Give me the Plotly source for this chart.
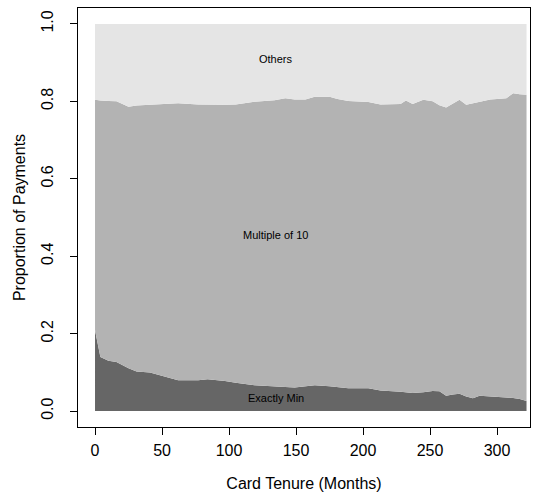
import plotly.graph_objects as go

tenure = [0, 4, 10, 16, 25, 31, 41, 48, 54, 62, 77, 84, 97, 105, 119, 134, 142, 149,
          157, 164, 175, 181, 189, 204, 213, 228, 232, 237, 245, 252, 257, 262, 267,
          272, 277, 282, 287, 295, 300, 307, 312, 317, 322]

exactly_min = [0.209, 0.140, 0.130, 0.127, 0.111, 0.102, 0.100, 0.093, 0.089, 0.080,
               0.080, 0.082, 0.078, 0.073, 0.067, 0.063, 0.062, 0.061, 0.064, 0.067,
               0.064, 0.062, 0.059, 0.059, 0.053, 0.050, 0.049, 0.047, 0.049, 0.052,
               0.051, 0.040, 0.043, 0.045, 0.038, 0.033, 0.040, 0.038, 0.037, 0.036,
               0.034, 0.031, 0.026]

multiple_of_10 = [0.595, 0.662, 0.671, 0.673, 0.675, 0.687, 0.691, 0.699, 0.705, 0.715,
                  0.712, 0.709, 0.713, 0.719, 0.732, 0.740, 0.746, 0.744, 0.741, 0.745,
                  0.748, 0.744, 0.742, 0.739, 0.739, 0.743, 0.753, 0.746, 0.755, 0.748,
                  0.739, 0.744, 0.752, 0.759, 0.753, 0.762, 0.758, 0.767, 0.769, 0.772,
                  0.787, 0.787, 0.791]

others = [0.196, 0.198, 0.199, 0.200, 0.214, 0.211, 0.209, 0.208, 0.206, 0.205,
          0.208, 0.209, 0.209, 0.208, 0.201, 0.197, 0.192, 0.195, 0.195, 0.188,
          0.188, 0.194, 0.199, 0.202, 0.208, 0.207, 0.198, 0.207, 0.196, 0.200,
          0.210, 0.216, 0.205, 0.196, 0.209, 0.205, 0.202, 0.195, 0.194, 0.192,
          0.179, 0.182, 0.183]

series = [("Exactly Min", exactly_min, "#666666"),
          ("Multiple of 10", multiple_of_10, "#b3b3b3"),
          ("Others", others, "#e5e5e5")]

label_pos = {"Exactly Min": 0.034, "Multiple of 10": 0.455, "Others": 0.91}

fig = go.Figure()
for name, vals, col in series:
    fig.add_trace(go.Scatter(x=tenure, y=vals, name=name, stackgroup="one",
                             mode="lines", line=dict(width=0, color=col),
                             fillcolor=col, hoverinfo="skip"))

for name, _, _ in series:
    fig.add_annotation(x=135, y=label_pos[name], text=name, showarrow=False,
                       font=dict(size=11, color="black"), xref="x", yref="y")

font = "Liberation Sans, Arial, sans-serif"
fig.update_layout(
    width=540, height=497,
    margin=dict(l=78, r=10, t=8, b=70),
    paper_bgcolor="white", plot_bgcolor="white",
    showlegend=False,
    font=dict(family=font, size=16, color="black"),
    xaxis=dict(range=[-12.7, 324.6], tickvals=[0, 50, 100, 150, 200, 250, 300],
               showgrid=False, zeroline=False, showline=True, linecolor="black",
               linewidth=1, mirror=True, ticks="outside", ticklen=7, tickcolor="black",
               ticklabelstandoff=2,
               title=dict(text="Card Tenure (Months)", standoff=19, font=dict(size=16))),
    yaxis=dict(range=[-0.041, 1.041], tickvals=[0, 0.2, 0.4, 0.6, 0.8, 1.0],
               ticktext=["0.0", "0.2", "0.4", "0.6", "0.8", "1.0"], tickangle=-90,
               showgrid=False, zeroline=False, showline=True, linecolor="black",
               linewidth=1, mirror=True, ticks="outside", ticklen=7, tickcolor="black",
               ticklabelstandoff=11,
               title=dict(text="Proportion of Payments", standoff=8, font=dict(size=16))),
)

fig.write_html("out.html")
